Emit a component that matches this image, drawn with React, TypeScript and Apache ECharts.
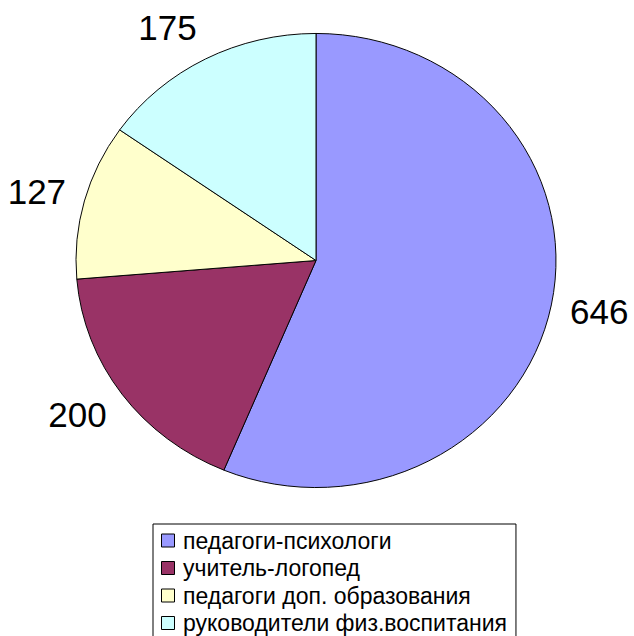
import React, { useEffect, useRef } from "react";
import * as echarts from "echarts";

const categories = [
  "педагоги-психологи",
  "учитель-логопед",
  "педагоги доп. образования",
  "руководители физ.воспитания",
];
const values = [646, 200, 127, 175];
const colors = ["#9999FF", "#993366", "#FFFFCC", "#CCFFFF"];

const CX = 316;
const CY = 260.5;
const RX = 240;
const RY = 227;
const FONT = "Liberation Sans, Arial, sans-serif";

export default function App() {
  const ref = useRef<HTMLDivElement>(null);
  useEffect(() => {
    if (!ref.current) return;
    const chart = echarts.init(ref.current, undefined, { renderer: "svg" });
    const total = values.reduce((a, b) => a + b, 0);

    const series = categories.map((name, i) => ({
      type: "custom",
      name,
      coordinateSystem: "none",
      silent: true,
      itemStyle: { color: colors[i], borderColor: "#000", borderWidth: 1 },
      data: [[values[i]]],
      renderItem: (params: any, api: any) => {
        const idx = params.seriesIndex;
        const v = api.value(0);
        let before = 0;
        for (let k = 0; k < idx; k++) before += values[k];
        const a0 = -Math.PI / 2 + (before / total) * Math.PI * 2;
        const a1 = a0 + (v / total) * Math.PI * 2;
        const mid = (a0 + a1) / 2;
        const dx = Math.cos(mid);
        const dy = Math.sin(mid);
        const px = CX + RX * dx;
        const py = CY + RY * dy;
        const g = 19;
        const lx = px + dx * g;
        const ly = py + dy * g + dy * 16;
        return {
          type: "group",
          children: [
            {
              type: "sector",
              x: CX,
              y: CY,
              scaleY: RY / RX,
              shape: { cx: 0, cy: 0, r0: 0, r: RX, startAngle: a0, endAngle: a1, clockwise: true },
              style: { fill: colors[idx], stroke: "#000", lineWidth: 1, strokeNoScale: true },
            },
            {
              type: "text",
              x: lx,
              y: ly,
              style: {
                text: String(v),
                font: `35px ${FONT}`,
                fill: "#000",
                align: dx < 0 ? "right" : "left",
                verticalAlign: "middle",
              },
            },
          ],
        };
      },
    }));

    chart.setOption({
      animation: false,
      backgroundColor: "#fff",
      legend: {
        data: categories,
        orient: "vertical",
        left: 153,
        top: 524,
        height: 140,
        padding: [5, 9, 10, 8],
        itemWidth: 20,
        itemHeight: 13,
        itemGap: 4.5,
        icon: "path://M0,0L12,0L12,12L0,12Z",
        itemStyle: { borderColor: "#000", borderWidth: 1 },
        textStyle: { fontFamily: FONT, fontSize: 23, color: "#000", lineHeight: 23 },
        borderColor: "#000",
        borderWidth: 1,
        borderRadius: 0,
        backgroundColor: "#fff",
        selectedMode: false,
      },
      series,
    } as any);
    return () => chart.dispose();
  }, []);
  return (
    <div
      ref={ref}
      style={{ position: "fixed", left: 0, top: 0, width: 634, height: 636 }}
    />
  );
}
